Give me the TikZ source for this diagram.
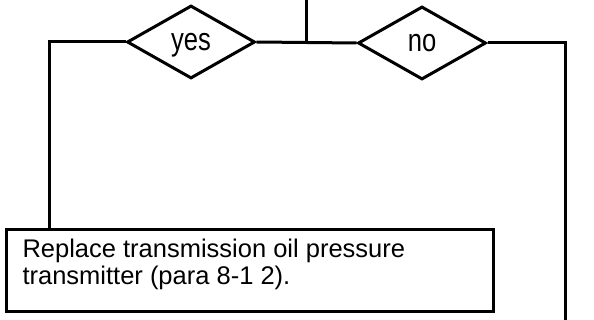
\documentclass[tikz,border=0pt]{standalone}
\usepackage{fontspec}
\setmainfont{Liberation Sans}
\usetikzlibrary{shapes.geometric}
\newcommand{\dlabeltext}[1]{\scalebox{0.8}[1]{\fontsize{32}{32}\selectfont #1}}
\begin{document}
\begin{tikzpicture}[x=1pt,y=-1pt,
  line width=3pt,
  decision/.style={diamond, draw, inner sep=0pt, minimum width=128pt, minimum height=73pt, aspect=1.75, text depth=0pt},
  actionbox/.style={draw, rectangle, inner sep=0pt, anchor=north west, minimum width=487pt, minimum height=82pt},
  boxtext/.style={anchor=north west, inner sep=0pt, align=left, font=\fontsize{25.5}{27}\selectfont}
]
\useasboundingbox (0,0) rectangle (594,320);
\node[decision] (yes) at (191,42) {\dlabeltext{yes}};
\node[decision] (no) at (422,43) {\dlabeltext{no}};
\node[actionbox] (box) at (5,228) {};
\node[boxtext] (txt) at (21,238) {Replace transmission oil pressure\\transmitter (para 8-1 2).};
\coordinate (top) at (306,0);
\coordinate (join) at (306,42);
\coordinate (leftend) at (49,228);
\coordinate (rightend) at (565,320);
\draw (top) -- (join);
\draw (yes.east) -- (no.west);
\draw (yes.west) -| (leftend);
\draw (no.east) -| (rightend);
\end{tikzpicture}
\end{document}
